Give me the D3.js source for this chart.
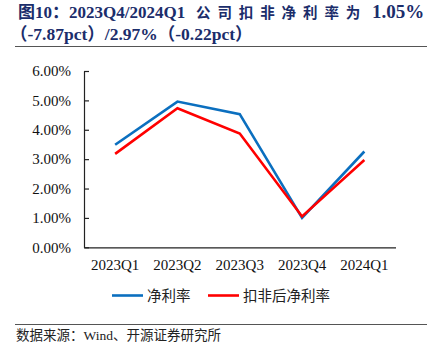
<!DOCTYPE html>
<html>
<head>
<meta charset="utf-8">
<script src="https://cdn.jsdelivr.net/npm/d3@7"></script>
<style>
  body { margin: 0; background: #fff; }
  svg { display: block; }
</style>
</head>
<body>
<div id="chart"></div>
<script>
const quarters = ["2023Q1", "2023Q2", "2023Q3", "2023Q4", "2024Q1"];
const netMargin = [3.49, 4.96, 4.53, 1.00, 3.26];
const deductedMargin = [3.18, 4.73, 3.87, 1.05, 2.97];
const yTicks = [0, 1, 2, 3, 4, 5, 6];
const seriesNames = ["净利率", "扣非后净利率"];

let chart = { width: 430, height: 361 };
const serif = "'Liberation Serif', 'Times New Roman', 'Noto Sans CJK SC', serif";
const cjk = "'Noto Sans CJK SC', sans-serif";

const svg = d3.select("#chart").append("svg")
    .attr("width", chart.width)
    .attr("height", chart.height);

// title
const titleColor = "#1b2d6b";
const t1 = svg.append("text")
    .attr("y", 18)
    .style("font-family", serif).style("font-weight", "bold")
    .style("font-size", "17px").attr("fill", titleColor);
t1.append("tspan").attr("x", 18).text("图10：2023Q4/2024Q1");
"公司扣非净利率为".split("").forEach((c, i) => {
    t1.append("tspan").attr("x", 196 + i * 21.4).style("font-family", cjk)
        .style("font-size", "14.5px").text(c);
});
t1.append("tspan").attr("x", 372).style("font-size", "19px").text("1.05%");

svg.append("text")
    .attr("x", 10).attr("y", 40)
    .style("font-family", serif).style("font-weight", "bold")
    .style("font-size", "17.5px").attr("fill", titleColor)
    .text("（-7.87pct）/2.97%（-0.22pct）");

svg.append("line").attr("x1", 15).attr("x2", 427).attr("y1", 46.5).attr("y2", 46.5)
    .attr("stroke", "#555").attr("stroke-width", 1.2);
svg.append("line").attr("x1", 15).attr("x2", 427).attr("y1", 324.5).attr("y2", 324.5)
    .attr("stroke", "#555").attr("stroke-width", 1.2);

svg.append("text")
    .attr("x", 16).attr("y", 340)
    .style("font-family", serif).style("font-size", "13.5px").attr("fill", "#222")
    .text("数据来源：Wind、开源证券研究所");

// plot
const x = d3.scaleBand().domain(quarters).range([84, 395.5]);
const y = d3.scaleLinear().domain([0, 6]).range([247.3, 71]);

const yAxis = d3.axisLeft(y).tickValues(yTicks).tickSize(5).tickSizeOuter(0)
    .tickFormat(d => d.toFixed(2) + "%");
const gy = svg.append("g").attr("transform", "translate(84,0)").call(yAxis);
gy.select(".domain").attr("stroke", "#222").attr("stroke-width", 1.2);
gy.selectAll(".tick line").attr("stroke", "#222").attr("stroke-width", 1.2).attr("x2", 5);
gy.selectAll(".tick text").attr("x", -13)
    .style("font-family", serif).style("font-size", "15px").attr("fill", "#111");

const xAxis = d3.axisBottom(x).tickSize(0).tickSizeOuter(0);
const gx = svg.append("g").attr("transform", "translate(0,247.3)").call(xAxis);
gx.select(".domain").attr("stroke", "#222").attr("stroke-width", 1.2);
gx.selectAll(".tick text").attr("y", 12)
    .style("font-family", serif).style("font-size", "15px").attr("fill", "#111");

const colors = ["#0b6fbf", "#ff0000"];
const line = d3.line()
    .x((d, i) => x(quarters[i]) + x.bandwidth() / 2)
    .y(d => y(d));

[netMargin, deductedMargin].forEach((vals, k) => {
    svg.append("path")
        .datum(vals)
        .attr("fill", "none")
        .attr("stroke", colors[k])
        .attr("stroke-width", 2.6)
        .attr("stroke-linejoin", "miter")
        .attr("d", line);
});

// legend
const legendX = [112, 208];
seriesNames.forEach((name, k) => {
    const g = svg.append("g").attr("transform", "translate(" + legendX[k] + ",295.5)");
    g.append("line").attr("x1", 0).attr("x2", 31).attr("y1", 0).attr("y2", 0)
        .attr("stroke", colors[k]).attr("stroke-width", 2.6);
    g.append("text").attr("x", 35).attr("y", 5)
        .style("font-family", cjk).style("font-size", "14.5px").attr("fill", "#222")
        .text(name);
});
</script>
</body>
</html>
